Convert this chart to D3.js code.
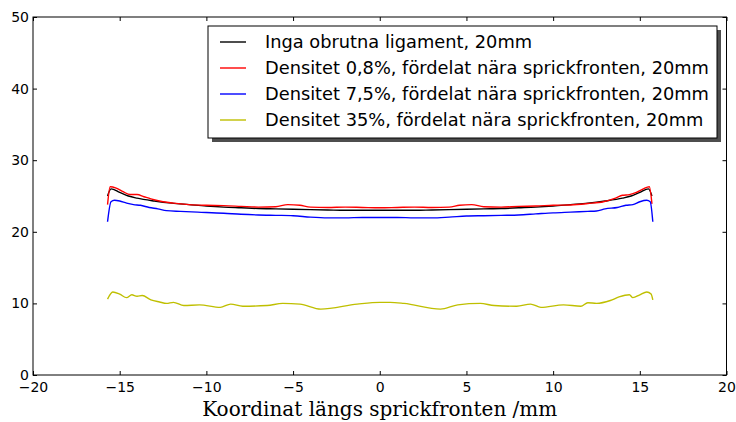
<!DOCTYPE html>
<html><head><meta charset="utf-8">
<script src="https://cdn.jsdelivr.net/npm/d3@7"></script>
<style>body{margin:0;background:#fff}svg{display:block}</style>
</head><body>
<svg id="c" width="736" height="422"></svg>
<script>
const xTicks = [-20,-15,-10,-5,0,5,10,15,20];
const yTicks = [0,10,20,30,40,50];
const seriesNames = [
  "Inga obrutna ligament, 20mm",
  "Densitet 0,8%, fördelat nära sprickfronten, 20mm",
  "Densitet 7,5%, fördelat nära sprickfronten, 20mm",
  "Densitet 35%, fördelat nära sprickfronten, 20mm"
];
const seriesColors = ["#000000","#ff0000","#0000ff","#bfbf00"];

const blackX = [-15.7,-15.5,-15.0,-14.5,-14.0,-13.0,-12.0,-11.0,-10,-9,-8,-7,-6,-5,-4,-3,-2,-1,0,1,2,3,4,5,6,7,8,9,10,11,12,13,14,14.5,15.0,15.5,15.7];
const blackY = [25.0,26.0,25.5,25.0,24.7,24.3,24.0,23.8,23.6,23.45,23.35,23.25,23.2,23.15,23.1,23.05,23.0,23.0,23.0,23.0,23.0,23.05,23.1,23.15,23.2,23.25,23.35,23.45,23.6,23.8,24.0,24.3,24.7,25.0,25.5,26.0,25.0];

const redX = [-15.7,-15.55,-15.2,-14.8,-14.4,-14.0,-13.6,-13.2,-12.5,-11.9,-11,-10,-9,-8,-7,-6,-5.3,-4.6,-4.0,-3,-2,-1,0,1,2,3,4,4.6,5.3,6,7,8,9,10,11,12,12.9,13.6,14.0,14.4,14.8,15.2,15.55,15.7];
const redY = [23.8,26.3,26.1,25.6,25.2,25.2,24.9,24.6,24.2,24.0,23.8,23.7,23.65,23.55,23.45,23.5,23.8,23.7,23.45,23.4,23.45,23.4,23.35,23.4,23.45,23.4,23.45,23.7,23.8,23.5,23.45,23.55,23.6,23.7,23.75,23.95,24.2,24.7,25.1,25.2,25.5,26.0,26.3,23.9];

const blueX = [-15.7,-15.5,-15.3,-15.0,-14.6,-14.2,-13.8,-13.3,-12.8,-12.3,-11.5,-10.5,-9,-8,-7,-6,-5,-4,-3,-2,-1,0,1,2,3,4,5,6,7,8,9,10,11,12,12.5,13.0,13.7,14.2,14.6,15.0,15.4,15.6,15.75];
const blueY = [21.4,24.2,24.4,24.3,24.0,23.8,23.7,23.4,23.2,22.95,22.85,22.75,22.6,22.45,22.35,22.3,22.25,22.05,21.95,21.95,22.0,22.0,22.0,21.95,21.95,22.05,22.2,22.25,22.3,22.35,22.5,22.65,22.75,22.85,22.9,23.2,23.4,23.7,23.8,24.2,24.4,24.2,21.4];

const yellowX = [-15.7,-15.4,-15.0,-14.6,-14.3,-14.0,-13.7,-13.2,-12.7,-12.3,-11.9,-11.3,-10.4,-9.2,-8.6,-7.9,-6.5,-5.6,-4.6,-3.4,-1.3,0,0.6,1.4,3.5,4.5,5.8,6.6,7.9,8.7,9.3,10.6,11.6,12.0,12.5,13.3,13.8,14.4,14.6,15.0,15.4,15.65,15.75];
const yellowY = [10.6,11.6,11.3,10.8,11.2,11.0,11.1,10.5,10.2,10.0,10.15,9.7,9.8,9.45,9.9,9.6,9.7,10.0,9.9,9.2,9.9,10.15,10.15,10.0,9.2,9.8,10.0,9.7,9.6,9.9,9.45,9.8,9.6,10.1,10.0,10.4,10.9,11.2,10.8,11.2,11.6,11.3,10.5];

const seriesX = [blackX, redX, blueX, yellowX];
const seriesY = [blackY, redY, blueY, yellowY];

const svg = d3.select("#c");
const L = 33, R = 726.5, T = 17, B = 375;
const x = d3.scaleLinear().domain([-20,20]).range([L,R]);
const y = d3.scaleLinear().domain([0,50]).range([B,T]);
const font = "DejaVu Sans, sans-serif";

const line = d3.line().x(d=>x(d[0])).y(d=>y(d[1])).curve(d3.curveMonotoneX);
seriesX.forEach((xs,i)=>{
  const pts = xs.map((v,j)=>[v, seriesY[i][j]]);
  svg.append("path").attr("d", line(pts)).attr("fill","none")
    .attr("stroke", seriesColors[i]).attr("stroke-width",1.4).attr("stroke-linejoin","round");
});

// frame
svg.append("rect").attr("x",L).attr("y",T).attr("width",R-L).attr("height",B-T)
  .attr("fill","none").attr("stroke","#000").attr("stroke-width",1);

// ticks inward on all four sides
const tl = 4;
const axB = d3.axisBottom(x).tickValues(xTicks).tickSizeInner(-tl).tickSizeOuter(0).tickPadding(8)
  .tickFormat(d=> d<0 ? "\u2212"+Math.abs(d) : d);
const gB = svg.append("g").attr("transform",`translate(0,${B})`).call(axB);
const axT = d3.axisTop(x).tickValues(xTicks).tickSizeInner(-tl).tickSizeOuter(0).tickFormat("");
const gT = svg.append("g").attr("transform",`translate(0,${T})`).call(axT);
const axLft = d3.axisLeft(y).tickValues(yTicks).tickSizeInner(-tl).tickSizeOuter(0).tickPadding(8);
const gL = svg.append("g").attr("transform",`translate(${L},0)`).call(axLft);
const axRt = d3.axisRight(y).tickValues(yTicks).tickSizeInner(-tl).tickSizeOuter(0).tickFormat("");
const gR = svg.append("g").attr("transform",`translate(${R},0)`).call(axRt);
[gB,gT,gL,gR].forEach(g=>{
  g.select(".domain").remove();
  g.selectAll("text").attr("font-family",font).attr("font-size",14).attr("fill","#000");
});
gB.selectAll("text").attr("dy","0.71em").attr("y",7);
gL.selectAll("text").attr("x",-4);

// x label
svg.append("text").attr("x",(L+R)/2).attr("y",416).attr("text-anchor","middle")
  .attr("font-family","DejaVu Serif, serif").attr("font-size",20).text("Koordinat längs sprickfronten /mm");

// legend
const lx = 208, ly = 26, lw = 509, lh = 112;
svg.append("rect").attr("x",lx+4).attr("y",ly+4).attr("width",lw).attr("height",lh).attr("fill","#4d4d4d");
svg.append("rect").attr("x",lx).attr("y",ly).attr("width",lw).attr("height",lh).attr("fill","#fff")
  .attr("stroke","#000").attr("stroke-width",1);
const rowY = [42,68,94,120];
seriesNames.forEach((n,i)=>{
  svg.append("line").attr("x1",220).attr("x2",246).attr("y1",rowY[i]).attr("y2",rowY[i])
    .attr("stroke",seriesColors[i]).attr("stroke-width",1.4);
  svg.append("text").attr("x",265).attr("y",rowY[i]).attr("dy","0.36em")
    .attr("font-family",font).attr("font-size",17.8).attr("fill","#000").text(n);
});
</script>
</body></html>
